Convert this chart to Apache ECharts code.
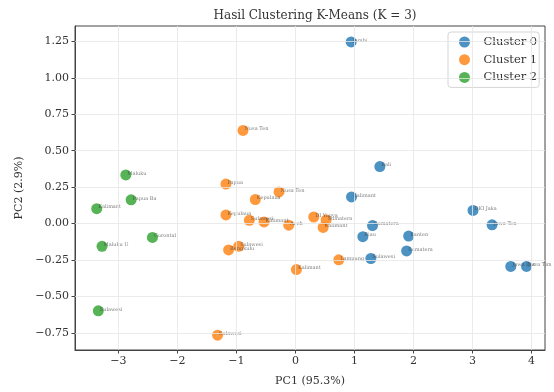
<!DOCTYPE html>
<html>
<head>
<meta charset="utf-8">
<script src="https://cdn.jsdelivr.net/npm/echarts@6/dist/echarts.min.js"></script>
<style>html,body{margin:0;padding:0;background:#fff;}#c{width:554px;height:392px;}</style>
</head>
<body>
<div id="c"></div>
<script>
// ---- data ----
var xTicks = [-3, -2, -1, 0, 1, 2, 3, 4];
var yTicks = [-0.75, -0.5, -0.25, 0, 0.25, 0.5, 0.75, 1.0, 1.25];

var c0Names = ["Jambi", "Bali", "Kalimant", "DKI Jaka", "Jawa Ten", "Sumatera", "Riau", "Banten", "Sumatera", "Sulawesi", "Jawa Bar", "Jawa Tim"];
var c0X = [0.945, 1.431, 0.951, 3.01, 3.333, 1.307, 1.143, 1.919, 1.885, 1.279, 3.65, 3.917];
var c0Y = [1.247, 0.391, 0.183, 0.09, -0.009, -0.014, -0.09, -0.086, -0.188, -0.24, -0.294, -0.294];

var c1Names = ["Nusa Ten", "Papua", "Nusa Ten", "Kepulaua", "Kepulaua", "Sulawesi", "Kalimant", "Aceh", "DI Yogya", "Sumatera", "Kalimant", "Sulawesi", "Bengkulu", "Kalimant", "Lampung", "Sulawesi"];
var c1X = [-0.888, -1.177, -0.277, -0.679, -1.177, -0.781, -0.531, -0.113, 0.311, 0.521, 0.47, -0.962, -1.132, 0.017, 0.735, -1.319];
var c1Y = [0.639, 0.271, 0.217, 0.165, 0.059, 0.022, 0.011, -0.011, 0.045, 0.025, -0.027, -0.156, -0.181, -0.316, -0.249, -0.766];

var c2Names = ["Maluku", "Papua Ba", "Kalimant", "Gorontal", "Maluku U", "Sulawesi"];
var c2X = [-2.874, -2.784, -3.367, -2.423, -3.277, -3.34];
var c2Y = [0.334, 0.163, 0.102, -0.095, -0.156, -0.599];

var clusterNames = ["Cluster 0", "Cluster 1", "Cluster 2"];
var colors = ["#1f77b4", "#ff7f0e", "#2ca02c"];

// ---- chart ----
var FONT = "DejaVu Serif";
function pts(xs, ys, names) {
  return xs.map(function (x, i) { return { value: [x, ys[i]], name: names[i] }; });
}
function fmtMinus(v, dec) {
  var s = dec ? v.toFixed(dec) : String(v);
  return s.replace("-", "\u2212");
}
function scatter(name, color, data) {
  return {
    name: name, type: "scatter", data: data, symbolSize: 11, z: 3,
    itemStyle: { color: color, opacity: 0.8 },
    label: {
      show: true, formatter: function (p) { return p.name; },
      position: [7, 4], align: "left", verticalAlign: "middle",
      fontFamily: FONT, fontSize: 5, color: "rgba(60,60,60,0.85)"
    },
    emphasis: { disabled: true }
  };
}

var chart = echarts.init(document.getElementById("c"), null, { renderer: "canvas" });
chart.setOption({
  animation: false,
  backgroundColor: "#fff",
  title: {
    text: "Hasil Clustering K-Means (K = 3)", left: 310, top: 5, textAlign: "center",
    textStyle: { fontFamily: FONT, fontSize: 12, fontWeight: "normal", color: "#333" }
  },
  legend: {
    data: clusterNames, orient: "vertical", left: 448, top: 32,
    icon: "circle", itemWidth: 28, itemHeight: 11, itemGap: 5.7,
    padding: [4, 2, 4, 11],
    backgroundColor: "rgba(255,255,255,0.85)", borderColor: "#d5d5d5", borderWidth: 1, borderRadius: 3,
    textStyle: { fontFamily: FONT, fontSize: 11.5, color: "#333" }
  },
  grid: {
    left: 75, right: 9, top: 26, bottom: 38, show: true,
    borderColor: "#444", borderWidth: 1, backgroundColor: "transparent"
  },
  xAxis: {
    type: "value", min: -3.735, max: 4.23,
    name: "PC1 (95.3%)", nameLocation: "middle", nameGap: 26,
    nameTextStyle: { fontFamily: FONT, fontSize: 11, color: "#333" },
    axisLine: { show: true, onZero: false, lineStyle: { color: "#444" } },
    axisTick: { show: true, length: 3.5, customValues: xTicks, lineStyle: { color: "#444" } },
    axisLabel: { customValues: xTicks, margin: 6, fontFamily: FONT, fontSize: 11, color: "#333",
      formatter: function (v) { return fmtMinus(v, 0); } },
    splitLine: { show: false }
  },
  yAxis: {
    type: "value", min: -0.868, max: 1.356,
    name: "PC2 (2.9%)", nameLocation: "middle", nameGap: 44, nameRotate: 90,
    nameTextStyle: { fontFamily: FONT, fontSize: 11, color: "#333" },
    axisLine: { show: true, onZero: false, lineStyle: { color: "#444" } },
    axisTick: { show: true, length: 3.5, customValues: yTicks, lineStyle: { color: "#444" } },
    axisLabel: { customValues: yTicks, margin: 6, fontFamily: FONT, fontSize: 11, color: "#333",
      formatter: function (v) { return fmtMinus(v, 2); } },
    splitLine: { show: false }
  },
  series: [
    {
      name: "grid", type: "scatter", data: [], z: 1, silent: true,
      markLine: {
        silent: true, symbol: "none", animation: false,
        label: { show: false },
        lineStyle: { color: "#e6e6e6", width: 0.8, type: "solid" },
        data: xTicks.map(function (v) { return { xAxis: v }; })
          .concat(yTicks.map(function (v) { return { yAxis: v }; }))
      }
    },
    scatter(clusterNames[0], colors[0], pts(c0X, c0Y, c0Names)),
    scatter(clusterNames[1], colors[1], pts(c1X, c1Y, c1Names)),
    scatter(clusterNames[2], colors[2], pts(c2X, c2Y, c2Names))
  ]
});
</script>
</body>
</html>
